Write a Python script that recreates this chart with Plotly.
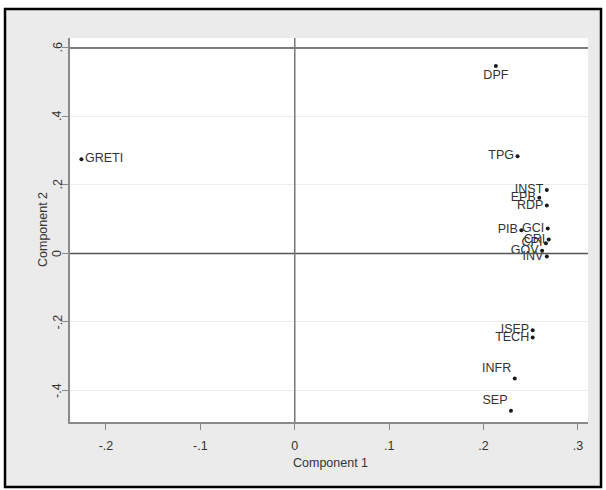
import plotly.graph_objects as go

variables = ["DPF", "TPG", "GRETI", "INST", "EPB", "RDP", "GCI", "PIB", "CRI", "CPI",
             "GOV", "INV", "ISEP", "TECH", "INFR", "SEP"]
component1 = [0.213, 0.236, -0.226, 0.267, 0.259, 0.267, 0.268, 0.240, 0.269, 0.266,
              0.262, 0.267, 0.252, 0.252, 0.233, 0.229]
component2 = [0.547, 0.284, 0.275, 0.185, 0.163, 0.140, 0.073, 0.068, 0.041, 0.030,
              0.008, -0.009, -0.224, -0.245, -0.365, -0.459]

x_tickvals = [-0.2, -0.1, 0, 0.1, 0.2, 0.3]
x_ticktext = ["-.2", "-.1", "0", ".1", ".2", ".3"]
y_tickvals = [-0.4, -0.2, 0, 0.2, 0.4, 0.6]
y_ticktext = ["-.4", "-.2", "0", ".2", ".4", ".6"]

label_pos = {"DPF": "bottom center", "GRETI": "middle right", "INFR": "top left", "SEP": "top left"}
textpos = [label_pos.get(v, "middle left") for v in variables]

W, H = 606, 490
L, R, T, B = 70, 18, 38, 68
pw, ph = W - L - R, H - T - B

def px2paper_x(px):
    return (px - L) / pw

def px2paper_y(py):
    return (H - B - py) / ph

FONT = "Liberation Sans, Arial, sans-serif"
TXT = "#333333"

fig = go.Figure()
fig.add_trace(go.Scatter(
    x=component1, y=component2, mode="markers+text", text=variables,
    textposition=textpos, cliponaxis=False,
    marker=dict(size=4, color="#1a1a1a"),
    textfont=dict(family=FONT, size=12.5, color=TXT),
    showlegend=False, hoverinfo="skip",
))

# outer gray graph region with black frame
fig.add_shape(type="rect", xref="paper", yref="paper",
              x0=px2paper_x(5), x1=px2paper_x(601), y0=px2paper_y(487), y1=px2paper_y(9),
              fillcolor="#ebebeb", line=dict(color="black", width=2.5), layer="below")
# white plot region
fig.add_shape(type="rect", xref="paper", yref="paper",
              x0=0, x1=1, y0=0, y1=1, fillcolor="white", line=dict(width=0), layer="below")

# reference lines
fig.add_shape(type="line", xref="paper", yref="y", x0=0, x1=1, y0=0, y1=0,
              line=dict(color="#555555", width=1.5))
fig.add_shape(type="line", xref="paper", yref="y", x0=0, x1=1, y0=0.6, y1=0.6,
              line=dict(color="#555555", width=1.5))
fig.add_shape(type="line", xref="x", yref="paper", x0=0, x1=0, y0=0, y1=1,
              line=dict(color="#777777", width=1.5))

# y tick labels (rotated, placed next to the ticks)
for v, t in zip(y_tickvals, y_ticktext):
    fig.add_annotation(text=t, xref="paper", yref="y", x=px2paper_x(57.5), y=v,
                       showarrow=False, textangle=-90, xanchor="center", yanchor="middle",
                       font=dict(size=12.5, color=TXT))

# axis titles
fig.add_annotation(text="Component 1", xref="paper", yref="paper",
                   x=px2paper_x(330), y=px2paper_y(463), showarrow=False,
                   xanchor="center", yanchor="middle", font=dict(size=12.5, color=TXT))
fig.add_annotation(text="Component 2", xref="paper", yref="paper",
                   x=px2paper_x(43), y=px2paper_y(230), showarrow=False, textangle=-90,
                   xanchor="center", yanchor="middle", font=dict(size=12.5, color=TXT))

fig.update_layout(
    width=W, height=H,
    margin=dict(l=L, r=R, t=T, b=B),
    paper_bgcolor="white", plot_bgcolor="rgba(0,0,0,0)",
    font=dict(family=FONT, size=12.5, color=TXT),
    xaxis=dict(range=[-0.2381, 0.3106], tickvals=x_tickvals, ticktext=x_ticktext,
               showgrid=False, zeroline=False, showline=True, linecolor="#8a8a8a", linewidth=1.5,
               ticks="outside", ticklen=6, tickcolor="#8a8a8a", ticklabelstandoff=5,
               tickfont=dict(size=12.5)),
    yaxis=dict(range=[-0.492, 0.629], tickvals=y_tickvals, showticklabels=False,
               showgrid=True, gridcolor="#ececec", gridwidth=1, zeroline=False,
               showline=True, linecolor="#8a8a8a", linewidth=1.5,
               ticks="outside", ticklen=6, tickcolor="#8a8a8a"),
)

fig.write_html("out.html", config={"displayModeBar": False},
               post_script="document.body.style.margin='0px';document.body.style.overflow='hidden';")
